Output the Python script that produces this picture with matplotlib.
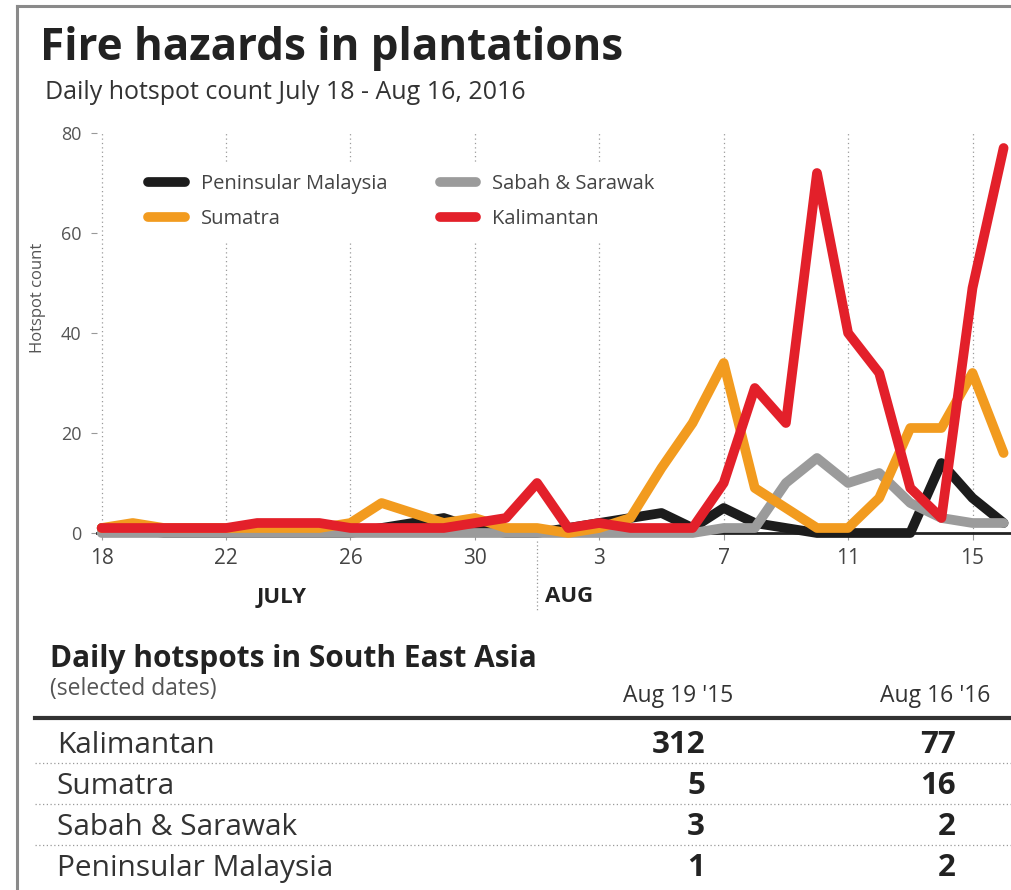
import matplotlib.pyplot as plt
import pandas as pd
from matplotlib.lines import Line2D

plt.rcParams['font.family'] = ['Open Sans', 'DejaVu Sans']

# daily hotspot counts, Jul 18 - Aug 16 2016
dates = pd.date_range("2016-07-18", "2016-08-16", freq="D")
peninsular = [1, 1, 0, 0, 0, 0, 0, 0, 0, 1, 2, 3, 1, 0, 0, 1,
              2, 3, 4, 1, 5, 2, 1, 0, 0, 0, 0, 14, 7, 2]
sabah = [0, 0, 0, 0, 0, 0, 0, 0, 0, 0, 0, 0, 0, 0, 0, 0,
         0, 0, 0, 0, 1, 1, 10, 15, 10, 12, 6, 3, 2, 2]
sumatra = [1, 2, 1, 1, 1, 1, 1, 1, 2, 6, 4, 2, 3, 1, 1, 0,
           1, 3, 13, 22, 34, 9, 5, 1, 1, 7, 21, 21, 32, 16]
kalimantan = [1, 1, 1, 1, 1, 2, 2, 2, 1, 1, 1, 1, 2, 3, 10, 1,
              2, 1, 1, 1, 10, 29, 22, 72, 40, 32, 9, 3, 49, 77]

tick_dates = dates[::4]
tick_labels = [str(d.day) for d in tick_dates]
month_start = pd.Timestamp("2016-08-01")

# comparison table
table_regions = ["Kalimantan", "Sumatra", "Sabah & Sarawak", "Peninsular Malaysia"]
table_cols = ["Aug 19 '15", "Aug 16 '16"]
aug19_2015 = [312, 5, 3, 1]
aug16_2016 = [kalimantan[-1], sumatra[-1], sabah[-1], peninsular[-1]]

W, H = 1012, 890
def fx(px):
    return px / W
def fy(py):
    return 1 - py / H

fig = plt.figure(figsize=(W / 100, H / 100), dpi=100)

# outer frame (left and top edges)
fig.add_artist(Line2D([fx(17), fx(17)], [fy(6), 0], color='#8a8a8a', lw=2.2))
fig.add_artist(Line2D([fx(17), 1], [fy(6), fy(6)], color='#8a8a8a', lw=2.2))

fig.text(fx(40), fy(60), "Fire hazards in plantations", fontsize=31.7,
         fontweight='bold', color='#222222', va='baseline')
fig.text(fx(45), fy(99), "Daily hotspot count July 18 - Aug 16, 2016",
         fontsize=18, color='#333333', va='baseline')

ax = fig.add_axes([fx(97), fy(533), (W - 97) / W, 400 / H])
day = pd.Timedelta(days=1)
ax.set_xlim(dates[0] - 0.15 * day, dates[0] + 29.27 * day)
ax.set_ylim(0, 80)

lw = 7
style = dict(lw=lw, solid_capstyle='round', solid_joinstyle='round', clip_on=False)
l_pen, = ax.plot(dates, peninsular, color='#1c1c1c', zorder=3, **style)
l_sab, = ax.plot(dates, sabah, color='#9b9b9b', zorder=4, **style)
l_sum, = ax.plot(dates, sumatra, color='#f29b1f', zorder=5, **style)
l_kal, = ax.plot(dates, kalimantan, color='#e3202a', zorder=6, **style)

ax.set_xticks(tick_dates)
ax.set_xticklabels(tick_labels)
ax.set_yticks([0, 20, 40, 60, 80])
ax.xaxis.grid(True, linestyle=(0, (1, 2.5)), color='#9a9a9a', lw=0.9)
ax.set_axisbelow(True)
for s in ['top', 'right', 'left']:
    ax.spines[s].set_visible(False)
ax.spines['bottom'].set_color('#222222')
ax.spines['bottom'].set_linewidth(2)
ax.tick_params(axis='y', length=4, color='#999999', labelsize=13,
               labelcolor='#555555', pad=7)
ax.tick_params(axis='x', length=5, color='#999999', labelsize=15,
               labelcolor='#444444', pad=6)

fig.text(fx(38), fy(298), "Hotspot count", rotation=90, fontsize=12,
         color='#555555', ha='center', va='center')

# month labels under the axis
xt = ax.get_xaxis_transform()
ax.text(pd.Timestamp("2016-07-23 19:00"), -0.16, "JULY", transform=xt,
        ha='center', va='center', fontsize=16, fontweight='bold', color='#222222')
ax.plot([month_start, month_start], [-0.02, -0.195], transform=xt,
        ls=(0, (1, 2)), color='#999999', lw=0.9, clip_on=False)
ax.text(month_start + 0.25 * day, -0.16, "AUG", transform=xt,
        ha='left', va='center', fontsize=16, fontweight='bold', color='#222222')

leg = ax.legend([l_pen, l_sum, l_sab, l_kal],
                ["Peninsular Malaysia", "Sumatra", "Sabah & Sarawak", "Kalimantan"],
                ncol=2, loc='upper left', bbox_to_anchor=(0.043, 0.927),
                fontsize=14.5, labelcolor='#444444', frameon=True, fancybox=False,
                facecolor='white', edgecolor='none', framealpha=1,
                borderpad=0.6, handlelength=1.8, handletextpad=0.8,
                columnspacing=2.6, labelspacing=0.75, borderaxespad=0)
leg.set_zorder(7)

# table of selected dates
fig.text(fx(50), fy(667), "Daily hotspots in South East Asia", fontsize=21.5,
         fontweight='bold', color='#222222', va='baseline')
fig.text(fx(50), fy(695), "(selected dates)", fontsize=16.5, color='#555555',
         va='baseline')
col_centers = [678, 935]
col_rights = [705, 956]
for c, name in zip(col_centers, table_cols):
    fig.text(fx(c), fy(702), name, fontsize=16.5, color='#333333',
             ha='center', va='baseline')
fig.add_artist(Line2D([fx(35), 1], [fy(718), fy(718)], color='#333333', lw=3))

row_base = [753, 794, 835, 876]
for i, region in enumerate(table_regions):
    yb = row_base[i]
    fig.text(fx(57), fy(yb), region, fontsize=21.5, color='#333333', va='baseline')
    fig.text(fx(col_rights[0]), fy(yb), str(aug19_2015[i]), fontsize=22.5,
             fontweight='bold', color='#222222', ha='right', va='baseline')
    fig.text(fx(col_rights[1]), fy(yb), str(aug16_2016[i]), fontsize=22.5,
             fontweight='bold', color='#222222', ha='right', va='baseline')
    if i < len(table_regions) - 1:
        fig.add_artist(Line2D([fx(35), 1], [fy(yb + 10), fy(yb + 10)],
                              color='#9a9a9a', lw=0.9, ls=(0, (1, 2))))

fig.savefig("out.png", dpi=100)
